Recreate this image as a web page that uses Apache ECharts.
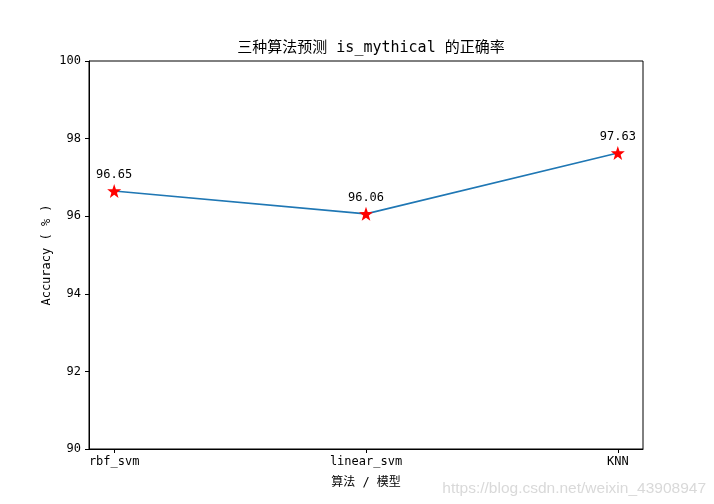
<!DOCTYPE html>
<html><head><meta charset="utf-8">
<script src="https://cdn.jsdelivr.net/npm/echarts@6/dist/echarts.min.js"></script>
<style>html,body{margin:0;padding:0;background:#fff}#c{width:714px;height:504px}</style>
</head><body><div id="c"></div>
<script>
const categories = ['rbf_svm', 'linear_svm', 'KNN'];
const accuracy = [96.65, 96.06, 97.63];
const yTicks = [90, 92, 94, 96, 98, 100];
const titleText = '三种算法预测 is_mythical 的正确率';
const xName = '算法 / 模型';
const yName = 'Accuracy ( % )';
const watermark = 'https://blog.csdn.net/weixin_43908947';

const FONT = '"DejaVu Sans Mono", "Noto Sans CJK SC", monospace';
const chart = echarts.init(document.getElementById('c'), null, {renderer: 'canvas'});
chart.setOption({
  animation: false,
  backgroundColor: '#fff',
  title: {
    text: titleText, left: 366, top: 36, textAlign: 'center',
    textStyle: {fontFamily: FONT, fontSize: 15, fontWeight: 'normal', color: '#000'}
  },
  grid: {left: 89, right: 71, top: 61, bottom: 55, show: true, borderColor: '#000', borderWidth: 1},
  xAxis: {
    type: 'value', min: -0.1, max: 2.1,
    name: xName, nameLocation: 'middle', nameGap: 28, nameMoveOverlap: false,
    nameTextStyle: {fontFamily: FONT, fontSize: 12, color: '#000'},
    axisLine: {show: true, onZero: false, lineStyle: {color: '#000', width: 1}},
    axisTick: {show: true, inside: false, length: 4, lineStyle: {color: '#000'}, customValues: [0, 1, 2]},
    axisLabel: {fontFamily: FONT, fontSize: 12, color: '#000', margin: 7,
      customValues: [0, 1, 2], formatter: v => categories[Math.round(v)]},
    splitLine: {show: false}
  },
  yAxis: {
    type: 'value', min: 90, max: 100, interval: 2,
    name: yName, nameLocation: 'middle', nameGap: 36, nameRotate: 90, nameMoveOverlap: false,
    nameTextStyle: {fontFamily: FONT, fontSize: 12, color: '#000'},
    axisLine: {show: true, onZero: false, lineStyle: {color: '#000', width: 1}},
    axisTick: {show: true, length: 4, lineStyle: {color: '#000'}},
    axisLabel: {fontFamily: FONT, fontSize: 12, color: '#000', margin: 8,
      formatter: v => yTicks.includes(v) ? String(v) : ''},
    splitLine: {show: false}
  },
  series: [{
    type: 'line',
    data: accuracy.map((v, i) => [i, v]),
    lineStyle: {color: '#1f77b4', width: 1.6},
    symbol: 'path://M0,-10 L2.35,-3.24 L9.51,-3.09 L3.8,1.24 L5.88,8.09 L0,4 L-5.88,8.09 L-3.8,1.24 L-9.51,-3.09 L-2.35,-3.24 Z',
    symbolSize: 14,
    itemStyle: {color: '#ff0000', borderColor: '#ff0000', borderWidth: 0},
    label: {show: true, position: 'top', distance: 3, fontFamily: FONT, fontSize: 12, color: '#000',
      formatter: p => p.value[1].toFixed(2)},
    z: 3
  }],
  graphic: [{
    type: 'text', right: 8, bottom: 7,
    style: {text: watermark, fontFamily: '"Liberation Sans", Arial, sans-serif', fontSize: 15.5, fill: '#d9d9d9'}
  }]
});
</script></body></html>
